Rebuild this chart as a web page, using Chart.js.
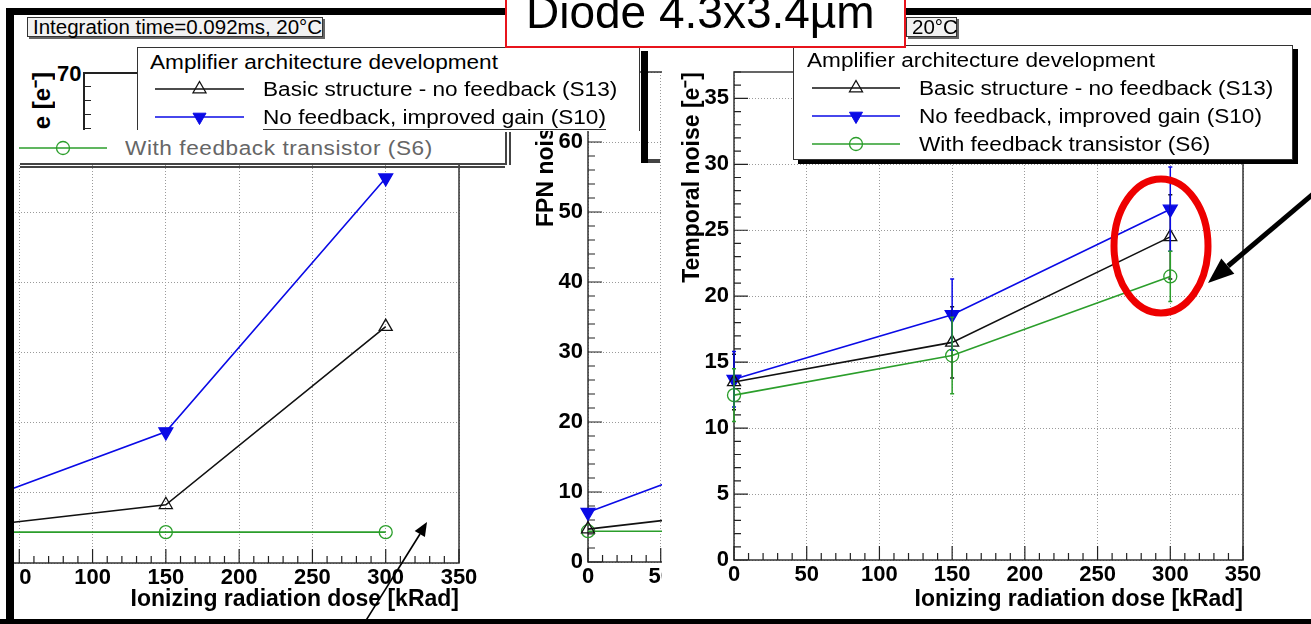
<!DOCTYPE html>
<html>
<head>
<meta charset="utf-8">
<script src="https://cdn.jsdelivr.net/npm/chart.js@4.4.1/dist/chart.umd.min.js"></script>
<style>
  html, body { margin: 0; padding: 0; background: #fff; }
  #page { position: relative; width: 1311px; height: 624px; overflow: hidden; background: #fff;
          font-family: 'Liberation Sans', Arial, Helvetica, sans-serif; color: #000; }
  #page > * { position: absolute; }
  .txt { position: absolute; white-space: nowrap; transform-origin: 0 50%; }
  .box { position: absolute; box-sizing: border-box; }
  canvas { display: block; }
</style>
</head>
<body>
<div id="page">
  <canvas id="cLeft" width="610" height="604" style="left:-130px; top:15px;"></canvas>
  <div id="midWrap" style="left:520px; top:15px; width:142px; height:604px; overflow:hidden;">
    <canvas id="cMid" width="600" height="604" style="position:absolute; left:0; top:0;"></canvas>
  </div>
  <canvas id="cRight" width="649" height="604" style="left:662px; top:15px; background:#fff;"></canvas>
  <div id="overlay" style="left:0; top:0; width:1311px; height:624px;"></div>
</div>

<script>
// ---- data ----
const doses = [0, 150, 300];                      // kRad
const seriesNames = [
  'Basic structure - no feedback (S13)',
  'No feedback, improved gain (S10)',
  'With feedback transistor (S6)'
];
// FPN noise [e-] (left and middle panels)
const fpnBasic    = [4.7, 8.3, 33.7];
const fpnGain     = [7.1, 18.7, 54.9];
const fpnFeedback = [4.4, 4.4, 4.4];
// Temporal noise [e-] (right panel) with errors
const tnBasic       = [13.5, 16.5, 24.5];
const tnBasicErr    = [2.1, 2.7, 3.2];
const tnGain        = [13.7, 18.6, 26.6];
const tnGainErr     = [2.1, 2.7, 3.2];
const tnFeedback    = [12.5, 15.5, 21.5];
const tnFeedbackErr = [2.0, 2.9, 1.9];

const legendTitle = 'Amplifier architecture development';
const conditions  = 'Integration time=0.092ms, 20°C';
const xTitle      = 'Ionizing radiation dose [kRad]';

// ---- styles ----
const FONT = "'Liberation Sans', Arial, Helvetica, sans-serif";
const colors  = ['#111111', '#0a0ae6', '#2b9e2b'];
const markers = ['up', 'down', 'circle'];

// ROOT-like frame + inner ticks
const rootAxes = {
  id: 'rootAxes',
  beforeDatasetsDraw(chart, args, o) {
    const { ctx, chartArea: a, scales: { x, y } } = chart;
    ctx.save();
    ctx.strokeStyle = '#333';
    ctx.lineWidth = 1.5;
    ctx.strokeRect(a.left, a.top, a.right - a.left, a.bottom - a.top);
    ctx.lineWidth = 1.2;
    ctx.strokeStyle = '#222';
    ctx.beginPath();
    for (let v = x.min; v <= x.max + 1e-9; v += o.xMinor) {
      const px = x.getPixelForValue(v);
      const len = Math.abs(v % o.xMajor) < 1e-6 ? 14 : 7;
      ctx.moveTo(px, a.bottom); ctx.lineTo(px, a.bottom - len);
    }
    for (let v = y.min; v <= y.max + 1e-9; v += o.yMinor) {
      const py = y.getPixelForValue(v);
      const len = Math.abs(v % o.yMajor) < 1e-6 ? 14 : 7;
      ctx.moveTo(a.left, py); ctx.lineTo(a.left + len, py);
    }
    ctx.stroke();
    ctx.restore();
  }
};

const errorBars = {
  id: 'errorBars',
  afterDatasetsDraw(chart) {
    const { ctx, scales: { x, y } } = chart;
    chart.data.datasets.forEach(ds => {
      if (!ds.errors) return;
      ctx.save();
      ctx.strokeStyle = ds.borderColor;
      ctx.lineWidth = 1.5;
      ds.data.forEach((p, j) => {
        const px = x.getPixelForValue(p.x);
        const y1 = y.getPixelForValue(p.y - ds.errors[j]);
        const y2 = y.getPixelForValue(p.y + ds.errors[j]);
        ctx.beginPath();
        ctx.moveTo(px, y1); ctx.lineTo(px, y2);
        ctx.moveTo(px - 2, y1); ctx.lineTo(px + 2, y1);
        ctx.moveTo(px - 2, y2); ctx.lineTo(px + 2, y2);
        ctx.stroke();
      });
      ctx.restore();
    });
  }
};

function makeDataset(i, values, errors) {
  const m = markers[i];
  return {
    label: seriesNames[i],
    data: doses.map((d, k) => ({ x: d, y: values[k] })),
    errors: errors,
    showLine: true,
    clip: false,
    borderColor: colors[i],
    borderWidth: 1.6,
    tension: 0,
    pointStyle: m === 'circle' ? 'circle' : 'triangle',
    pointRotation: m === 'down' ? 180 : 0,
    pointRadius: m === 'circle' ? 6.5 : (m === 'down' ? 8 : 7.5),
    pointBorderWidth: 1.3,
    pointBorderColor: colors[i],
    pointBackgroundColor: m === 'down' ? colors[i] : 'rgba(0,0,0,0)'
  };
}

function noiseChart(id, cfg) {
  const tickFont = { family: FONT, size: 22, weight: 'bold' };
  const titleFont = { family: FONT, size: 23, weight: 'bold' };
  return new Chart(document.getElementById(id), {
    type: 'scatter',
    data: { datasets: cfg.datasets },
    options: {
      responsive: false,
      animation: false,
      events: [],
      layout: { padding: cfg.padding },
      plugins: {
        legend: { display: false },
        tooltip: { enabled: false },
        rootAxes: cfg.ticks
      },
      scales: {
        x: {
          type: 'linear', min: 0, max: 350,
          afterFit: s => { s.height = cfg.xHeight; },
          ticks: { stepSize: 50, includeBounds: false, padding: 2, maxRotation: 0, autoSkip: false,
                   color: '#000', font: tickFont },
          grid: { color: '#9a9a9a', lineWidth: 1, drawTicks: false },
          border: { display: false, dash: [1, 2] },
          title: { display: !!cfg.xTitle, text: cfg.xTitle || '', align: 'end', color: '#000',
                   font: titleFont, padding: { top: 0, bottom: 6 } }
        },
        y: {
          min: 0, max: cfg.yMax,
          afterFit: s => { s.width = cfg.yWidth; },
          ticks: { stepSize: cfg.yStep, includeBounds: false, padding: 5, color: '#000', font: tickFont },
          grid: { color: '#9a9a9a', lineWidth: 1, drawTicks: false },
          border: { display: false, dash: [1, 2] },
          title: { display: !!cfg.yTitle, text: cfg.yTitle || '', align: 'end', color: '#000',
                   font: titleFont, padding: { top: cfg.yTitlePad, bottom: 0 } }
        }
      }
    },
    plugins: [rootAxes, errorBars]
  });
}

const fpnSets = () => [makeDataset(0, fpnBasic), makeDataset(1, fpnGain), makeDataset(2, fpnFeedback)];

// left panel (cropped FPN plot)
noiseChart('cLeft', {
  datasets: fpnSets(),
  padding: { top: 57, right: 21, left: 0, bottom: 0 },
  xHeight: 56, yWidth: 76, yMax: 70, yStep: 10,
  xTitle: xTitle, yTitle: 'FPN noise [e⁻]', yTitlePad: 10,
  ticks: { xMinor: 10, xMajor: 50, yMinor: 2, yMajor: 10 }
});

// middle panel (FPN plot mostly hidden)
noiseChart('cMid', {
  datasets: fpnSets(),
  padding: { top: 57, right: 23, left: 0, bottom: 0 },
  xHeight: 57, yWidth: 68, yMax: 70, yStep: 10,
  xTitle: xTitle, yTitle: 'FPN noise [e⁻]', yTitlePad: 13,
  ticks: { xMinor: 10, xMajor: 50, yMinor: 2, yMajor: 10 }
});

// right panel (temporal noise)
noiseChart('cRight', {
  datasets: [makeDataset(0, tnBasic, tnBasicErr), makeDataset(1, tnGain, tnGainErr),
             makeDataset(2, tnFeedback, tnFeedbackErr)],
  padding: { top: 57, right: 68, left: 0, bottom: 0 },
  xHeight: 59, yWidth: 72, yMax: 37, yStep: 5,
  xTitle: xTitle, yTitle: 'Temporal noise [e⁻]', yTitlePad: 17,
  ticks: { xMinor: 10, xMajor: 50, yMinor: 1, yMajor: 5 }
});

// ---- overlays: legends, boxes, annotations ----
const ov = document.getElementById('overlay');
function add(html) { ov.insertAdjacentHTML('beforeend', html); }
function rect(l, t, w, h, style) { add(`<div class="box" style="left:${l}px;top:${t}px;width:${w}px;height:${h}px;${style}"></div>`); }
function text(l, cy, str, size, extra) {
  add(`<div class="txt" style="left:${l}px;top:${cy - size * 0.6}px;font-size:${size}px;line-height:${size * 1.2}px;${extra || ''}">${str}</div>`);
}
function symbol(l, cy, i, w) {
  const c = colors[i], m = markers[i], cx = w / 2, y = 10;
  let mk;
  if (m === 'up') mk = `<polygon points="${cx},${y - 7.5} ${cx + 6.5},${y + 3.8} ${cx - 6.5},${y + 3.8}" fill="none" stroke="${c}" stroke-width="1.3"/>`;
  else if (m === 'down') mk = `<polygon points="${cx},${y + 7.5} ${cx + 6.5},${y - 3.8} ${cx - 6.5},${y - 3.8}" fill="${c}" stroke="${c}" stroke-width="1"/>`;
  else mk = `<circle cx="${cx}" cy="${y}" r="6.5" fill="none" stroke="${c}" stroke-width="1.3"/>`;
  add(`<svg style="position:absolute;left:${l}px;top:${cy - 10}px" width="${w}" height="20"><line x1="0" y1="10" x2="${w}" y2="10" stroke="${c}" stroke-width="1.6"/>${mk}</svg>`);
}

// white edges and slide frame
rect(0, 0, 6, 624, 'background:#fff;');
rect(14, 15, 491, 115, 'background:#fff;');
rect(14, 565, 6, 30, 'background:#fff;');

// left-top axis fragment
add(`<div style="position:absolute;left:20px;top:72px;width:45px;height:58px;overflow:hidden;">
  <div style="position:absolute;left:5px;top:0;writing-mode:vertical-rl;transform:rotate(180deg);font:bold 24px ${FONT};white-space:nowrap;">FPN noise [e⁻]</div></div>`);
text(57, 74, '70', 22, 'font-weight:bold;');
rect(83, 72, 1.5, 58, 'background:#222;');
rect(83, 72, 54, 1.5, 'background:#222;');
[86, 100, 114, 128].forEach(y => rect(83, y, 8, 1.2, 'background:#222;'));

// left legend
rect(137, 47, 503, 84, 'background:#fff;border:1px solid #333;border-bottom:none;');
rect(641, 51, 7, 112, 'background:#000;');
rect(648, 159, 12, 4, 'background:#444;');
text(150, 62, legendTitle, 20, 'transform:scaleX(1.13);');
symbol(155, 89, 0, 89); text(263, 89, seriesNames[0], 20, 'transform:scaleX(1.13);');
symbol(155, 117, 1, 89); text(263, 117, seriesNames[1], 20, 'transform:scaleX(1.13);');
// garbled band with the third entry
rect(14, 130, 491, 33, 'background:#fff;');
rect(263, 129, 343, 1.2, 'background:#333;');
symbol(19, 148, 2, 88);
text(125, 148, seriesNames[2], 20, 'transform:scaleX(1.13);color:#666;letter-spacing:0.5px;');
rect(20, 163, 485, 1.6, 'background:#444;');
rect(20, 166, 485, 1.6, 'background:#444;');
rect(505, 132, 1.6, 33, 'background:#444;');
rect(509, 132, 1.6, 33, 'background:#444;');

// right legend
rect(793, 45, 500, 115, 'background:#fff;border:1px solid #333;box-shadow:5px 4px 0 #000;');
text(807, 60, legendTitle, 20, 'transform:scaleX(1.13);');
[88, 116, 144].forEach((cy, i) => {
  symbol(812, cy, i, 88);
  text(919, cy, seriesNames[i], 20, 'transform:scaleX(1.13);');
});

// condition boxes
rect(27, 17, 296, 20, 'background:#f2f2f2;border:1px solid #333;box-shadow:2px 2px 0 #666;');
text(33, 27, conditions, 20, 'transform:scaleX(1.025);');
rect(906, 17, 51, 20, 'background:#f2f2f2;border:1px solid #333;box-shadow:2px 2px 0 #666;');
text(912, 27, '20°C', 20, 'transform:scaleX(1.025);');

// slide frame
rect(6, 8, 1305, 7, 'background:#000;');
rect(6, 8, 8, 616, 'background:#000;');
rect(0, 619, 1311, 5, 'background:#000;');

// title box
rect(505, -3, 401, 51, 'background:#fff;border:2px solid #e8141c;');
add(`<div class="txt" style="left:526px;top:-11px;font-size:46px;line-height:46px;">Diode 4.3x3.4µm</div>`);

// annotations: ellipse and arrows
add(`<svg style="position:absolute;left:0;top:0" width="1311" height="624">
  <ellipse cx="1161" cy="246" rx="47" ry="67" fill="none" stroke="#ee0000" stroke-width="7"/>
  <line x1="1325" y1="184" x2="1228" y2="266" stroke="#000" stroke-width="5"/>
  <polygon points="1208,283 1234.3,273.8 1221.3,258.6" fill="#000"/>
  <line x1="360" y1="630" x2="420" y2="534" stroke="#000" stroke-width="1.6"/>
  <polygon points="427,522 424.9,537.1 414.7,530.9" fill="#000"/>
</svg>`);
</script>
</body>
</html>
